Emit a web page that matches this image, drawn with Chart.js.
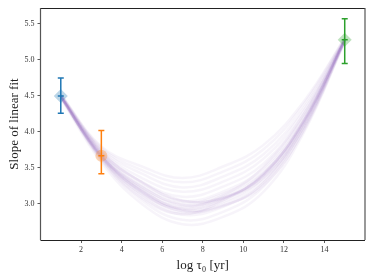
<!DOCTYPE html>
<html>
<head>
<meta charset="utf-8">
<script src="https://cdn.jsdelivr.net/npm/chart.js@4"></script>
<style>
html,body{margin:0;padding:0;background:#fff;}
#wrap{width:374px;height:280px;position:relative;}
</style>
</head>
<body>
<div id="wrap"><canvas id="c"></canvas></div>
<script>
// ---- data ----
const curveX = [1, 3, 5, 7, 9, 11, 13, 15];
const curve01 = [4.47, 3.58, 3.00, 2.72, 2.82, 3.17, 4.00, 5.25];
const curve02 = [4.48, 3.61, 3.05, 2.78, 2.89, 3.24, 4.04, 5.26];
const curve03 = [4.48, 3.63, 3.10, 2.85, 2.96, 3.30, 4.09, 5.26];
const curve04 = [4.48, 3.65, 3.13, 2.88, 3.00, 3.33, 4.11, 5.26];
const curve05 = [4.49, 3.65, 3.16, 2.91, 3.03, 3.37, 4.13, 5.27];
const curve06 = [4.49, 3.66, 3.18, 2.94, 3.07, 3.40, 4.15, 5.27];
const curve07 = [4.49, 3.67, 3.21, 2.98, 3.10, 3.43, 4.17, 5.27];
const curve08 = [4.49, 3.68, 3.23, 3.01, 3.14, 3.46, 4.19, 5.27];
const curve09 = [4.50, 3.70, 3.26, 3.04, 3.17, 3.50, 4.22, 5.28];
const curve10 = [4.50, 3.72, 3.31, 3.10, 3.24, 3.56, 4.26, 5.28];
const curve11 = [4.51, 3.74, 3.36, 3.17, 3.31, 3.63, 4.30, 5.29];
const curve12 = [4.51, 3.76, 3.42, 3.23, 3.38, 3.69, 4.34, 5.29];
const curve13 = [4.52, 3.78, 3.47, 3.30, 3.45, 3.76, 4.39, 5.30];
const curve14 = [4.52, 3.80, 3.52, 3.36, 3.52, 3.82, 4.43, 5.30];
const curve15 = [4.50, 3.62, 3.08, 2.86, 3.05, 3.42, 4.15, 5.28];
const curve16 = [4.49, 3.71, 3.30, 3.05, 3.08, 3.36, 4.07, 5.27];
const curve17 = [4.48, 3.66, 3.20, 2.92, 2.98, 3.26, 4.03, 5.26];
const curve18 = [4.50, 3.68, 3.18, 2.96, 3.12, 3.52, 4.25, 5.28];
const curve19 = [4.51, 3.73, 3.30, 3.04, 3.09, 3.39, 4.13, 5.28];
const curve20 = [4.49, 3.64, 3.14, 2.93, 3.06, 3.41, 4.17, 5.27];
const curve21 = [4.50, 3.69, 3.24, 2.99, 3.08, 3.41, 4.16, 5.28];
const curve22 = [4.49, 3.66, 3.17, 2.90, 2.97, 3.29, 4.08, 5.27];
const curves = [curve01, curve02, curve03, curve04, curve05, curve06, curve07, curve08,
  curve09, curve10, curve11, curve12, curve13, curve14, curve15, curve16, curve17,
  curve18, curve19, curve20, curve21, curve22];

const pointX = [1, 3, 15];
const pointY = [4.50, 3.67, 5.28];
const errLow = [4.26, 3.42, 4.95];
const errHigh = [4.75, 4.02, 5.57];

const xTickValues = [2, 4, 6, 8, 10, 12, 14];
const yTickValues = [3.0, 3.5, 4.0, 4.5, 5.0, 5.5];

// ---- styles ----
const pointColors = ['#1f77b4', '#ff7f0e', '#2ca02c'];
const pointFill = ['rgba(31,119,180,0.3)', 'rgba(255,127,14,0.3)', 'rgba(44,160,44,0.3)'];
const pointShapes = ['rectRot', 'circle', 'rectRot'];
const pointSizes = [7, 6, 7];
const curveColor = 'rgba(148,103,189,0.075)';

const datasets = [];
curves.forEach(c => {
  datasets.push({
    data: c.map((v, i) => ({x: curveX[i], y: v})),
    showLine: true, borderColor: curveColor, borderWidth: 2.5,
    pointRadius: 0, tension: 0.4, order: 2
  });
});
pointX.forEach((px, i) => {
  datasets.push({
    data: [{x: px, y: pointY[i]}],
    showLine: false, pointStyle: pointShapes[i], pointRadius: pointSizes[i],
    backgroundColor: pointFill[i], borderWidth: 0, order: 1
  });
});

const errorBars = {
  id: 'errorBars',
  afterDatasetsDraw(chart) {
    const {ctx, scales: {x, y}} = chart;
    ctx.save();
    pointX.forEach((px, i) => {
      const cx = x.getPixelForValue(px);
      const yl = y.getPixelForValue(errLow[i]);
      const yh = y.getPixelForValue(errHigh[i]);
      const yc = y.getPixelForValue(pointY[i]);
      ctx.strokeStyle = pointColors[i];
      ctx.lineWidth = 1.5;
      ctx.beginPath();
      ctx.moveTo(cx, yl); ctx.lineTo(cx, yh);
      ctx.moveTo(cx - 3, yl); ctx.lineTo(cx + 3, yl);
      ctx.moveTo(cx - 3, yh); ctx.lineTo(cx + 3, yh);
      ctx.moveTo(cx - 3, yc); ctx.lineTo(cx + 3, yc);
      ctx.stroke();
    });
    ctx.restore();
  },
  afterDraw(chart) {
    const {ctx, chartArea: a} = chart;
    ctx.save();
    ctx.lineWidth = 1;
    ctx.strokeStyle = '#222';
    ctx.beginPath();
    ctx.moveTo(a.left, Math.round(a.top) + 0.5); ctx.lineTo(a.right, Math.round(a.top) + 0.5);
    ctx.moveTo(a.left, Math.round(a.bottom) + 0.5); ctx.lineTo(a.right, Math.round(a.bottom) + 0.5);
    ctx.stroke();
    ctx.strokeStyle = '#555';
    ctx.lineWidth = 1.2;
    ctx.beginPath();
    ctx.moveTo(a.left, a.top); ctx.lineTo(a.left, a.bottom);
    ctx.moveTo(a.right, a.top); ctx.lineTo(a.right, a.bottom);
    ctx.stroke();
    ctx.restore();
  }
};

const tickFont = {family: "'Liberation Serif', 'DejaVu Serif', serif", size: 8};
const titleFont = {family: "'Liberation Serif', 'DejaVu Serif', serif", size: 13};

new Chart(document.getElementById('c'), {
  type: 'scatter',
  data: {datasets},
  plugins: [errorBars],
  options: {
    responsive: true, maintainAspectRatio: false, animation: false,
    devicePixelRatio: 1,
    layout: {padding: {top: 8, right: 9, left: 0, bottom: 0}},
    plugins: {legend: {display: false}, tooltip: {enabled: false}},
    scales: {
      x: {
        type: 'linear', min: 0, max: 16,
        afterBuildTicks: s => { s.ticks = xTickValues.map(v => ({value: v})); },
        afterFit: s => { s.height = 40; },
        ticks: {font: tickFont, color: '#333', padding: 2, maxRotation: 0,
          callback: v => String(v)},
        grid: {display: true, drawOnChartArea: false, drawTicks: true, tickLength: 3,
          tickColor: '#333', tickWidth: 0.8},
        border: {display: false},
        title: {display: true, text: 'log τ₀ [yr]', font: titleFont, color: '#222',
          padding: {top: 0, bottom: 7}}
      },
      y: {
        type: 'linear', min: 2.5, max: 5.72,
        afterBuildTicks: s => { s.ticks = yTickValues.map(v => ({value: v})); },
        afterFit: s => { s.width = 40.5; },
        ticks: {font: tickFont, color: '#333', padding: 3,
          callback: v => Number(v).toFixed(1)},
        grid: {display: true, drawOnChartArea: false, drawTicks: true, tickLength: 3,
          tickColor: '#333', tickWidth: 0.8},
        border: {display: false},
        title: {display: true, text: 'Slope of linear fit', font: titleFont, color: '#222',
          padding: {top: 7, bottom: 0}}
      }
    }
  }
});
</script>
</body>
</html>
